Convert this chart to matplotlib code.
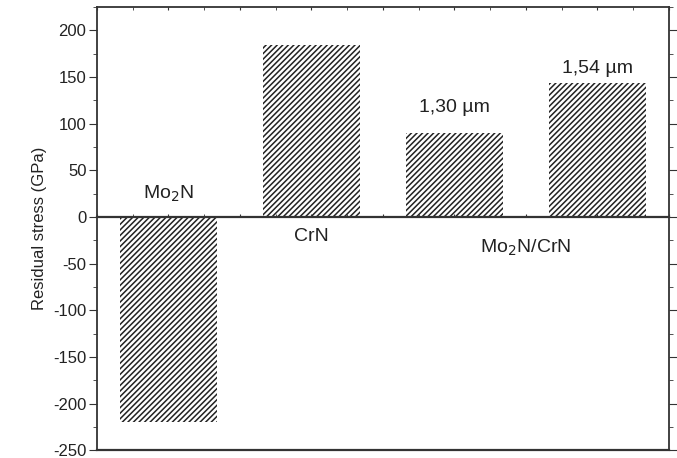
import matplotlib.pyplot as plt
from matplotlib.ticker import MultipleLocator

plt.rcParams['font.family'] = ['Liberation Sans', 'DejaVu Sans']
plt.rcParams['axes.unicode_minus'] = False
plt.rcParams['hatch.linewidth'] = 1.1

positions = [1, 2, 3, 4]
stress = [-220, 184, 90, 143]
bar_labels = ["1,30 µm", "1,54 µm"]
y_ticks = [-250, -200, -150, -100, -50, 0, 50, 100, 150, 200]

axis_color = '#333333'

fig = plt.figure(figsize=(6.77, 4.58), dpi=100)
ax = fig.add_axes([0.143, 0.017, 0.845, 0.968])

ax.bar(positions, stress, width=0.68, color='white', edgecolor='#222222',
       linewidth=0, hatch='//////')

ax.set_xlim(0.5, 4.5)
ax.set_ylim(-250, 225)
ax.set_yticks(y_ticks)
ax.yaxis.set_minor_locator(MultipleLocator(25))
ax.xaxis.set_major_locator(MultipleLocator(0.5))
ax.xaxis.set_minor_locator(MultipleLocator(0.25))
ax.set_xticklabels([])

# bottom spine moved to the zero line, frame closed with a line at the bottom
ax.spines['bottom'].set_position(('data', 0))
ax.plot([0, 1], [0, 0], transform=ax.transAxes, color=axis_color,
        linewidth=1.6, clip_on=False)
for s in ax.spines.values():
    s.set_color(axis_color)
    s.set_linewidth(1.3)
ax.spines['bottom'].set_linewidth(1.6)

ax.tick_params(axis='y', which='both', direction='out', right=True,
               colors=axis_color, labelcolor='#222222', labelsize=12, pad=2)
ax.tick_params(axis='y', which='major', length=5.5)
ax.tick_params(axis='y', which='minor', length=3)
ax.tick_params(axis='x', which='both', direction='in', top=True,
               length=2, colors=axis_color)

ax.set_ylabel('Residual stress (GPa)', fontsize=12, color='#222222', labelpad=4)

txt = dict(ha='center', va='center', fontsize=14, color='#222222')
ax.text(positions[0], 25, 'Mo$_2$N', **txt)
ax.text(positions[1], -21, 'CrN', **txt)
ax.text(positions[2], 117, bar_labels[0], **txt)
ax.text(positions[3], 159, bar_labels[1], **txt)
ax.text(3.5, -33, 'Mo$_2$N/CrN', **txt)

fig.savefig('out.png', dpi=100)
